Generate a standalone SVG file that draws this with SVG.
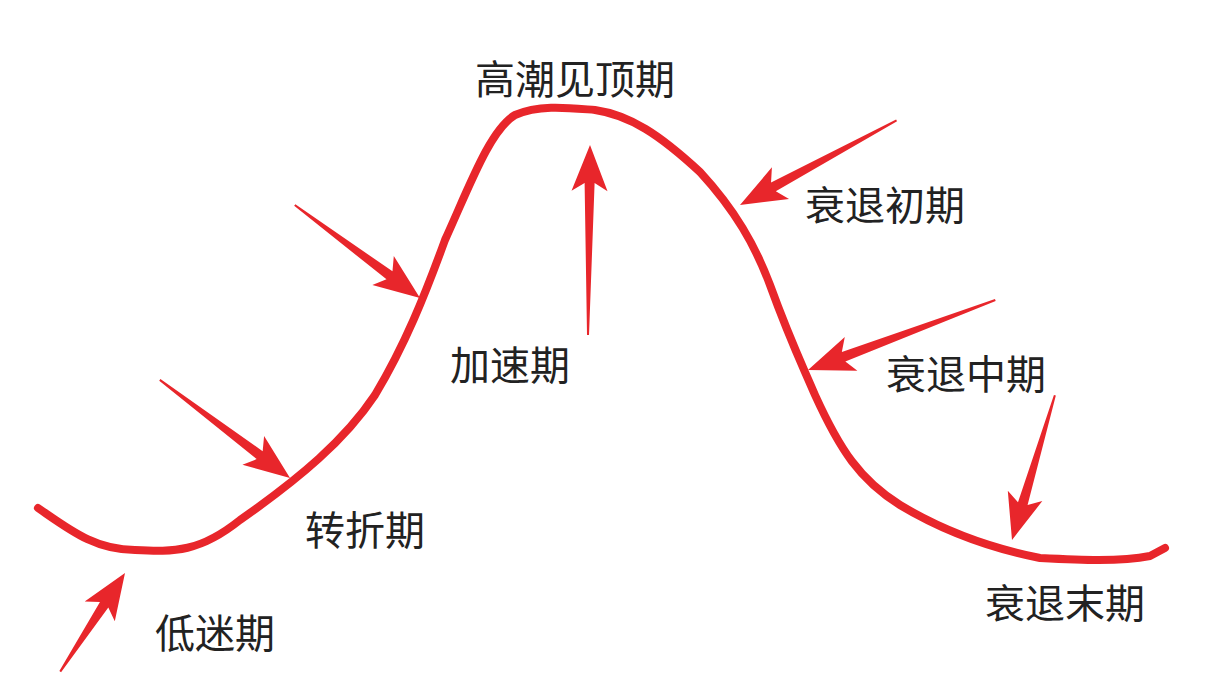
<svg xmlns="http://www.w3.org/2000/svg" width="1210" height="674" viewBox="0 0 1210 674">
<style>
.t{font-family:"Noto Sans CJK SC","Noto Sans",sans-serif;font-size:40px;fill:#222}
.a{fill:#e8262b}
</style>
<rect width="1210" height="674" fill="#fff"/>
<g id="connectors">
<path id="curve" d="M38,508 C70,530 95,550 135,550 C175,552 200,552 240,520 C300,478 345,440 375,395 C405,345 425,295 445,240 C470,185 490,130 515,115 C540,104 570,108 595,110 C630,115 660,135 700,172 C735,210 755,245 770,285 C790,340 800,360 815,395 C840,450 860,480 900,505 C950,535 1000,550 1040,558 C1080,560 1120,562 1150,556 L1165,548" fill="none" stroke="#e8262b" stroke-width="8" stroke-linecap="round" stroke-linejoin="round"/>
<g id="arrow1" transform="translate(420,298) rotate(36.6)"><polygon class="a" points="-156,-1 -156,1 -38,5 -46,18 0,0 -46,-18 -38,-5"/></g>
<g id="arrow2" transform="translate(290,478) rotate(37)"><polygon class="a" points="-163,-1 -163,1 -38,5 -46,18 0,0 -46,-18 -38,-5"/></g>
<g id="arrow3" transform="translate(590,145) rotate(-89.4)"><polygon class="a" points="-190,-1 -190,1 -38,5 -46,18 0,0 -46,-18 -38,-5"/></g>
<g id="arrow4" transform="translate(740,205) rotate(151.6)"><polygon class="a" points="-178,-1 -178,1 -38,5 -46,18 0,0 -46,-18 -38,-5"/></g>
<g id="arrow5" transform="translate(808,370) rotate(159.5)"><polygon class="a" points="-200,-1 -200,1 -38,5 -46,18 0,0 -46,-18 -38,-5"/></g>
<g id="arrow6" transform="translate(1012,540) rotate(106.5)"><polygon class="a" points="-151,-1 -151,1 -38,5 -46,18 0,0 -46,-18 -38,-5"/></g>
<g id="arrow7" transform="translate(125,573) rotate(-56.7)"><polygon class="a" points="-118,-1 -118,1 -38,5 -46,18 0,0 -46,-18 -38,-5"/></g>
</g>
<g id="n1"><text class="t" x="575" y="94" text-anchor="middle">高潮见顶期</text></g>
<g id="n2"><text class="t" x="805" y="220">衰退初期</text></g>
<g id="n3"><text class="t" x="450" y="380">加速期</text></g>
<g id="n4"><text class="t" x="886" y="389">衰退中期</text></g>
<g id="n5"><text class="t" x="305" y="545">转折期</text></g>
<g id="n6"><text class="t" x="985" y="618">衰退末期</text></g>
<g id="n7"><text class="t" x="155" y="648">低迷期</text></g>
</svg>
